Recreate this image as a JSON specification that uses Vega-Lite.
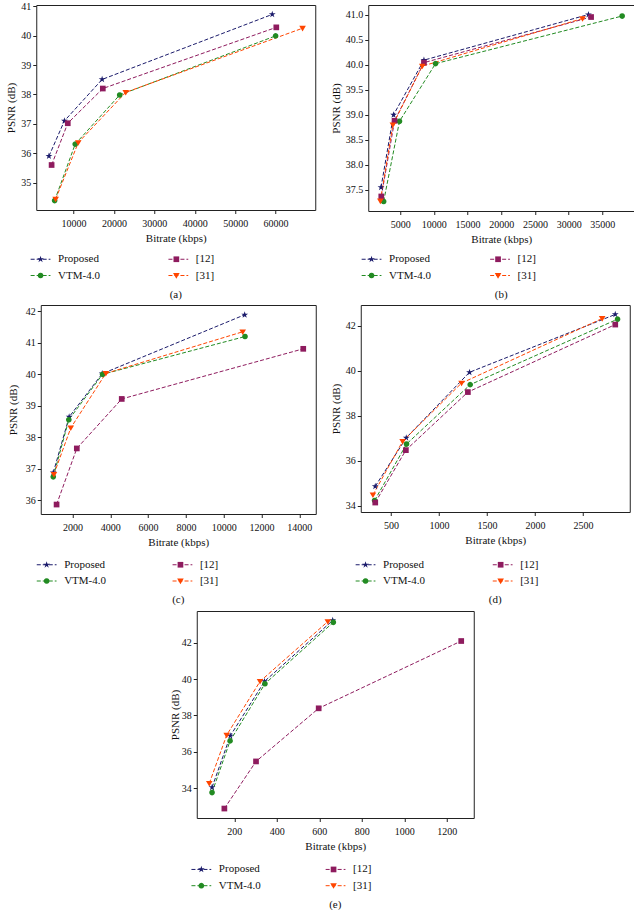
{
"$schema": "https://vega.github.io/schema/vega-lite/v6.json",
"padding": {"left": 5, "top": 0, "right": 0, "bottom": 0},
"background": "white",
"config": {
 "view": {"stroke": "#222", "strokeWidth": 1},
 "axis": {"labelFont": "Liberation Serif", "labelFontSize": 10, "titleFont": "Liberation Serif", "titleFontSize": 11, "titleFontWeight": "normal", "tickSize": 3.5, "tickColor": "#222", "labelColor": "#111", "titleColor": "#111", "grid": false, "domain": false, "labelPadding": 2, "titlePadding": 4, "labelFlush": false, "labelOverlap": false},
 "axisX": {"labelPadding": 5},
 "legend": {"labelFont": "Liberation Serif", "labelFontSize": 11, "labelColor": "#111", "rowPadding": 4.5, "symbolSize": 36, "labelOffset": 12, "padding": 0, "columns": 2},
 "title": {"font": "Liberation Serif", "fontSize": 11, "fontWeight": "normal", "orient": "bottom", "offset": 8, "frame": "group", "anchor": "middle", "color": "#111"}
},
"data": {"values": [
 {"panel":"a","method":"Proposed","bitrate":3920,"psnr":35.9},
 {"panel":"a","method":"Proposed","bitrate":7750,"psnr":37.1},
 {"panel":"a","method":"Proposed","bitrate":17080,"psnr":38.51},
 {"panel":"a","method":"Proposed","bitrate":59170,"psnr":40.72},
 {"panel":"a","method":"VTM-4.0","bitrate":5330,"psnr":34.39},
 {"panel":"a","method":"VTM-4.0","bitrate":10420,"psnr":36.31},
 {"panel":"a","method":"VTM-4.0","bitrate":21420,"psnr":37.98},
 {"panel":"a","method":"VTM-4.0","bitrate":60000,"psnr":39.99},
 {"panel":"a","method":"[12]","bitrate":4580,"psnr":35.6},
 {"panel":"a","method":"[12]","bitrate":8580,"psnr":37.02},
 {"panel":"a","method":"[12]","bitrate":17250,"psnr":38.2},
 {"panel":"a","method":"[12]","bitrate":60170,"psnr":40.28},
 {"panel":"a","method":"[31]","bitrate":5580,"psnr":34.44},
 {"panel":"a","method":"[31]","bitrate":11170,"psnr":36.36},
 {"panel":"a","method":"[31]","bitrate":22920,"psnr":38.07},
 {"panel":"a","method":"[31]","bitrate":66670,"psnr":40.25},
 {"panel":"b","method":"Proposed","bitrate":2160,"psnr":37.55},
 {"panel":"b","method":"Proposed","bitrate":4020,"psnr":39.0},
 {"panel":"b","method":"Proposed","bitrate":8530,"psnr":40.09},
 {"panel":"b","method":"Proposed","bitrate":32940,"psnr":41.0},
 {"panel":"b","method":"VTM-4.0","bitrate":2550,"psnr":37.27},
 {"panel":"b","method":"VTM-4.0","bitrate":4900,"psnr":38.87},
 {"panel":"b","method":"VTM-4.0","bitrate":10250,"psnr":40.02},
 {"panel":"b","method":"VTM-4.0","bitrate":37940,"psnr":40.97},
 {"panel":"b","method":"[12]","bitrate":2200,"psnr":37.37},
 {"panel":"b","method":"[12]","bitrate":4170,"psnr":38.88},
 {"panel":"b","method":"[12]","bitrate":8530,"psnr":40.04},
 {"panel":"b","method":"[12]","bitrate":33330,"psnr":40.95},
 {"panel":"b","method":"[31]","bitrate":2060,"psnr":37.28},
 {"panel":"b","method":"[31]","bitrate":3920,"psnr":38.8},
 {"panel":"b","method":"[31]","bitrate":8280,"psnr":39.97},
 {"panel":"b","method":"[31]","bitrate":32060,"psnr":40.92},
 {"panel":"c","method":"Proposed","bitrate":985,"psnr":36.88},
 {"panel":"c","method":"Proposed","bitrate":1825,"psnr":38.65},
 {"panel":"c","method":"Proposed","bitrate":3573,"psnr":40.02},
 {"panel":"c","method":"Proposed","bitrate":11108,"psnr":41.89},
 {"panel":"c","method":"VTM-4.0","bitrate":984,"psnr":36.75},
 {"panel":"c","method":"VTM-4.0","bitrate":1807,"psnr":38.56},
 {"panel":"c","method":"VTM-4.0","bitrate":3590,"psnr":40.0},
 {"panel":"c","method":"VTM-4.0","bitrate":11125,"psnr":41.2},
 {"panel":"c","method":"[12]","bitrate":1160,"psnr":35.87},
 {"panel":"c","method":"[12]","bitrate":2230,"psnr":37.65},
 {"panel":"c","method":"[12]","bitrate":4606,"psnr":39.22},
 {"panel":"c","method":"[12]","bitrate":14205,"psnr":40.81},
 {"panel":"c","method":"[31]","bitrate":1020,"psnr":36.83},
 {"panel":"c","method":"[31]","bitrate":1910,"psnr":38.3},
 {"panel":"c","method":"[31]","bitrate":3765,"psnr":40.03},
 {"panel":"c","method":"[31]","bitrate":11003,"psnr":41.35},
 {"panel":"d","method":"Proposed","bitrate":337,"psnr":34.87},
 {"panel":"d","method":"Proposed","bitrate":660,"psnr":37.03},
 {"panel":"d","method":"Proposed","bitrate":1319,"psnr":39.94},
 {"panel":"d","method":"Proposed","bitrate":2837,"psnr":42.51},
 {"panel":"d","method":"VTM-4.0","bitrate":330,"psnr":34.24},
 {"panel":"d","method":"VTM-4.0","bitrate":663,"psnr":36.75},
 {"panel":"d","method":"VTM-4.0","bitrate":1326,"psnr":39.39},
 {"panel":"d","method":"VTM-4.0","bitrate":2861,"psnr":42.3},
 {"panel":"d","method":"[12]","bitrate":337,"psnr":34.15},
 {"panel":"d","method":"[12]","bitrate":656,"psnr":36.48},
 {"panel":"d","method":"[12]","bitrate":1302,"psnr":39.06},
 {"panel":"d","method":"[12]","bitrate":2837,"psnr":42.06},
 {"panel":"d","method":"[31]","bitrate":313,"psnr":34.49},
 {"panel":"d","method":"[31]","bitrate":622,"psnr":36.87},
 {"panel":"d","method":"[31]","bitrate":1236,"psnr":39.46},
 {"panel":"d","method":"[31]","bitrate":2701,"psnr":42.33},
 {"panel":"e","method":"Proposed","bitrate":95,"psnr":34.04},
 {"panel":"e","method":"Proposed","bitrate":181,"psnr":36.88},
 {"panel":"e","method":"Proposed","bitrate":342,"psnr":39.87},
 {"panel":"e","method":"Proposed","bitrate":663,"psnr":43.22},
 {"panel":"e","method":"VTM-4.0","bitrate":95,"psnr":33.76},
 {"panel":"e","method":"VTM-4.0","bitrate":180,"psnr":36.6},
 {"panel":"e","method":"VTM-4.0","bitrate":344,"psnr":39.74},
 {"panel":"e","method":"VTM-4.0","bitrate":666,"psnr":43.12},
 {"panel":"e","method":"[12]","bitrate":153,"psnr":32.88},
 {"panel":"e","method":"[12]","bitrate":302,"psnr":35.47},
 {"panel":"e","method":"[12]","bitrate":597,"psnr":38.39},
 {"panel":"e","method":"[12]","bitrate":1268,"psnr":42.09},
 {"panel":"e","method":"[31]","bitrate":82,"psnr":34.26},
 {"panel":"e","method":"[31]","bitrate":164,"psnr":36.92},
 {"panel":"e","method":"[31]","bitrate":321,"psnr":39.87},
 {"panel":"e","method":"[31]","bitrate":640,"psnr":43.16}
]},
"spacing": 4,
"center": true,
"resolve": {"scale": {"x": "independent", "y": "independent", "color": "independent", "shape": "independent"}, "legend": {"color": "independent", "shape": "independent"}},
"vconcat": [
 {"hconcat": [
  {"width": 279, "height": 205,
   "transform": [{"filter": "datum.panel === 'a'"}],
   "title": {"text": "(a)"},
   "encoding": {
    "x": {"field": "bitrate", "type": "quantitative", "scale": {"domain": [782, 69807], "nice": false, "zero": false}, "axis": {"title": "Bitrate (kbps)", "values": [10000,20000,30000,40000,50000,60000], "format": "d"}},
    "y": {"field": "psnr", "type": "quantitative", "scale": {"domain": [34.07, 41.04], "nice": false, "zero": false}, "axis": {"title": "PSNR (dB)", "values": [35,36,37,38,39,40,41], "format": "d"}}
   },
   "layer": [
    {"mark": {"type": "line", "strokeDash": [4, 2], "strokeWidth": 1},
     "encoding": {"color": {"field": "method", "type": "nominal", "scale": {"domain": ["Proposed","VTM-4.0","[12]","[31]"], "range": ["#1b1b6b","#228b22","#8e1b5e","#ff4500"]},
      "legend": {"title": null, "orient": "none", "legendX": -1.2, "legendY": 248.5, "columnPadding": 65.8, "symbolType": "M-3.3,0H3.3", "symbolDash": [4, 2], "symbolStrokeWidth": 1}}}},
    {"mark": {"type": "point", "filled": true, "opacity": 1, "size": 36},
     "encoding": {"color": {"field": "method", "type": "nominal", "scale": {"domain": ["Proposed","VTM-4.0","[12]","[31]"], "range": ["#1b1b6b","#228b22","#8e1b5e","#ff4500"]},
       "legend": {"title": null, "orient": "none", "legendX": -1.2, "legendY": 248.5, "columnPadding": 65.8, "labelOpacity": 0, "symbolStrokeWidth": 0}},
      "shape": {"field": "method", "type": "nominal", "scale": {"domain": ["Proposed","VTM-4.0","[12]","[31]"], "range": ["M-3.3,0L-3.3,0M3.3,0L3.3,0M0,-1.2L0.268,-0.368L1.141,-0.371L0.433,0.14L0.706,0.971L0,0.456L-0.706,0.971L-0.433,0.14L-1.141,-0.371L-0.268,-0.368Z","M-3.3,0L-3.3,0M3.3,0L3.3,0M0.95,0L0.823,0.475L0.475,0.823L0,0.95L-0.475,0.823L-0.823,0.475L-0.95,0L-0.823,-0.475L-0.475,-0.823L0,-0.95L0.475,-0.823L0.823,-0.475Z","M-3.3,0L-3.3,0M3.3,0L3.3,0M-0.95,-0.95H0.95V0.95H-0.95Z","M-3.3,0L-3.3,0M3.3,0L3.3,0M-1.1,-0.8H1.1L0,1.05Z"]},
       "legend": {"title": null, "orient": "none", "legendX": -1.2, "legendY": 248.5, "columnPadding": 65.8, "labelOpacity": 0, "symbolStrokeWidth": 0}}}}
   ],
   "resolve": {"scale": {"color": "independent", "shape": "independent"}}
  },
  {"width": 266, "height": 206,
   "transform": [{"filter": "datum.panel === 'b'"}],
   "title": {"text": "(b)"},
   "encoding": {
    "x": {"field": "bitrate", "type": "quantitative", "scale": {"domain": [266, 39734], "nice": false, "zero": false}, "axis": {"title": "Bitrate (kbps)", "values": [5000,10000,15000,20000,25000,30000,35000], "format": "d"}},
    "y": {"field": "psnr", "type": "quantitative", "scale": {"domain": [37.08, 41.19], "nice": false, "zero": false}, "axis": {"title": "PSNR (dB)", "values": [37.5,38,38.5,39,39.5,40,40.5,41], "format": ".1f"}}
   },
   "layer": [
    {"mark": {"type": "line", "strokeDash": [4, 2], "strokeWidth": 1},
     "encoding": {"color": {"field": "method", "type": "nominal", "scale": {"domain": ["Proposed","VTM-4.0","[12]","[31]"], "range": ["#1b1b6b","#228b22","#8e1b5e","#ff4500"]},
      "legend": {"title": null, "orient": "none", "legendX": -2.2, "legendY": 248.5, "columnPadding": 56.5, "symbolType": "M-3.3,0H3.3", "symbolDash": [4, 2], "symbolStrokeWidth": 1}}}},
    {"mark": {"type": "point", "filled": true, "opacity": 1, "size": 36},
     "encoding": {"color": {"field": "method", "type": "nominal", "scale": {"domain": ["Proposed","VTM-4.0","[12]","[31]"], "range": ["#1b1b6b","#228b22","#8e1b5e","#ff4500"]},
       "legend": {"title": null, "orient": "none", "legendX": -2.2, "legendY": 248.5, "columnPadding": 56.5, "labelOpacity": 0, "symbolStrokeWidth": 0}},
      "shape": {"field": "method", "type": "nominal", "scale": {"domain": ["Proposed","VTM-4.0","[12]","[31]"], "range": ["M-3.3,0L-3.3,0M3.3,0L3.3,0M0,-1.2L0.268,-0.368L1.141,-0.371L0.433,0.14L0.706,0.971L0,0.456L-0.706,0.971L-0.433,0.14L-1.141,-0.371L-0.268,-0.368Z","M-3.3,0L-3.3,0M3.3,0L3.3,0M0.95,0L0.823,0.475L0.475,0.823L0,0.95L-0.475,0.823L-0.823,0.475L-0.95,0L-0.823,-0.475L-0.475,-0.823L0,-0.95L0.475,-0.823L0.823,-0.475Z","M-3.3,0L-3.3,0M3.3,0L3.3,0M-0.95,-0.95H0.95V0.95H-0.95Z","M-3.3,0L-3.3,0M3.3,0L3.3,0M-1.1,-0.8H1.1L0,1.05Z"]},
       "legend": {"title": null, "orient": "none", "legendX": -2.2, "legendY": 248.5, "columnPadding": 56.5, "labelOpacity": 0, "symbolStrokeWidth": 0}}}}
   ],
   "resolve": {"scale": {"color": "independent", "shape": "independent"}}
  }
 ], "spacing": 13,
 "resolve": {"scale": {"x": "independent", "y": "independent", "color": "independent", "shape": "independent"}, "legend": {"color": "independent", "shape": "independent"}}},
 {"hconcat": [
  {"width": 275, "height": 209,
   "transform": [{"filter": "datum.panel === 'c'"}],
   "title": {"text": "(c)"},
   "encoding": {
    "x": {"field": "bitrate", "type": "quantitative", "scale": {"domain": [323, 14866], "nice": false, "zero": false}, "axis": {"title": "Bitrate (kbps)", "values": [2000,4000,6000,8000,10000,12000,14000], "format": "d"}},
    "y": {"field": "psnr", "type": "quantitative", "scale": {"domain": [35.57, 42.2], "nice": false, "zero": false}, "axis": {"title": "PSNR (dB)", "values": [36,37,38,39,40,41,42], "format": "d", "titlePadding": 7}}
   },
   "layer": [
    {"mark": {"type": "line", "strokeDash": [4, 2], "strokeWidth": 1},
     "encoding": {"color": {"field": "method", "type": "nominal", "scale": {"domain": ["Proposed","VTM-4.0","[12]","[31]"], "range": ["#1b1b6b","#228b22","#8e1b5e","#ff4500"]},
      "legend": {"title": null, "orient": "none", "legendX": 0.4, "legendY": 254, "columnPadding": 63.8, "symbolType": "M-3.3,0H3.3", "symbolDash": [4, 2], "symbolStrokeWidth": 1}}}},
    {"mark": {"type": "point", "filled": true, "opacity": 1, "size": 36},
     "encoding": {"color": {"field": "method", "type": "nominal", "scale": {"domain": ["Proposed","VTM-4.0","[12]","[31]"], "range": ["#1b1b6b","#228b22","#8e1b5e","#ff4500"]},
       "legend": {"title": null, "orient": "none", "legendX": 0.4, "legendY": 254, "columnPadding": 63.8, "labelOpacity": 0, "symbolStrokeWidth": 0}},
      "shape": {"field": "method", "type": "nominal", "scale": {"domain": ["Proposed","VTM-4.0","[12]","[31]"], "range": ["M-3.3,0L-3.3,0M3.3,0L3.3,0M0,-1.2L0.268,-0.368L1.141,-0.371L0.433,0.14L0.706,0.971L0,0.456L-0.706,0.971L-0.433,0.14L-1.141,-0.371L-0.268,-0.368Z","M-3.3,0L-3.3,0M3.3,0L3.3,0M0.95,0L0.823,0.475L0.475,0.823L0,0.95L-0.475,0.823L-0.823,0.475L-0.95,0L-0.823,-0.475L-0.475,-0.823L0,-0.95L0.475,-0.823L0.823,-0.475Z","M-3.3,0L-3.3,0M3.3,0L3.3,0M-0.95,-0.95H0.95V0.95H-0.95Z","M-3.3,0L-3.3,0M3.3,0L3.3,0M-1.1,-0.8H1.1L0,1.05Z"]},
       "legend": {"title": null, "orient": "none", "legendX": 0.4, "legendY": 254, "columnPadding": 63.8, "labelOpacity": 0, "symbolStrokeWidth": 0}}}}
   ],
   "resolve": {"scale": {"color": "independent", "shape": "independent"}}
  },
  {"width": 269, "height": 207,
   "transform": [{"filter": "datum.panel === 'd'"}],
   "title": {"text": "(d)"},
   "encoding": {
    "x": {"field": "bitrate", "type": "quantitative", "scale": {"domain": [186, 2988], "nice": false, "zero": false}, "axis": {"title": "Bitrate (kbps)", "values": [500,1000,1500,2000,2500], "format": "d"}},
    "y": {"field": "psnr", "type": "quantitative", "scale": {"domain": [33.73, 42.93], "nice": false, "zero": false}, "axis": {"title": "PSNR (dB)", "values": [34,36,38,40,42], "format": "d"}}
   },
   "layer": [
    {"mark": {"type": "line", "strokeDash": [4, 2], "strokeWidth": 1},
     "encoding": {"color": {"field": "method", "type": "nominal", "scale": {"domain": ["Proposed","VTM-4.0","[12]","[31]"], "range": ["#1b1b6b","#228b22","#8e1b5e","#ff4500"]},
      "legend": {"title": null, "orient": "none", "legendX": -0.7, "legendY": 254, "columnPadding": 65.1, "symbolType": "M-3.3,0H3.3", "symbolDash": [4, 2], "symbolStrokeWidth": 1}}}},
    {"mark": {"type": "point", "filled": true, "opacity": 1, "size": 36},
     "encoding": {"color": {"field": "method", "type": "nominal", "scale": {"domain": ["Proposed","VTM-4.0","[12]","[31]"], "range": ["#1b1b6b","#228b22","#8e1b5e","#ff4500"]},
       "legend": {"title": null, "orient": "none", "legendX": -0.7, "legendY": 254, "columnPadding": 65.1, "labelOpacity": 0, "symbolStrokeWidth": 0}},
      "shape": {"field": "method", "type": "nominal", "scale": {"domain": ["Proposed","VTM-4.0","[12]","[31]"], "range": ["M-3.3,0L-3.3,0M3.3,0L3.3,0M0,-1.2L0.268,-0.368L1.141,-0.371L0.433,0.14L0.706,0.971L0,0.456L-0.706,0.971L-0.433,0.14L-1.141,-0.371L-0.268,-0.368Z","M-3.3,0L-3.3,0M3.3,0L3.3,0M0.95,0L0.823,0.475L0.475,0.823L0,0.95L-0.475,0.823L-0.823,0.475L-0.95,0L-0.823,-0.475L-0.475,-0.823L0,-0.95L0.475,-0.823L0.823,-0.475Z","M-3.3,0L-3.3,0M3.3,0L3.3,0M-0.95,-0.95H0.95V0.95H-0.95Z","M-3.3,0L-3.3,0M3.3,0L3.3,0M-1.1,-0.8H1.1L0,1.05Z"]},
       "legend": {"title": null, "orient": "none", "legendX": -0.7, "legendY": 254, "columnPadding": 65.1, "labelOpacity": 0, "symbolStrokeWidth": 0}}}}
   ],
   "resolve": {"scale": {"color": "independent", "shape": "independent"}}
  }
 ], "spacing": 13,
 "resolve": {"scale": {"x": "independent", "y": "independent", "color": "independent", "shape": "independent"}, "legend": {"color": "independent", "shape": "independent"}}},
 {"width": 277, "height": 207,
   "transform": [{"filter": "datum.panel === 'e'"}],
   "title": {"text": "(e)"},
   "encoding": {
    "x": {"field": "bitrate", "type": "quantitative", "scale": {"domain": [23, 1327], "nice": false, "zero": false}, "axis": {"title": "Bitrate (kbps)", "values": [200,400,600,800,1000,1200], "format": "d"}},
    "y": {"field": "psnr", "type": "quantitative", "scale": {"domain": [32.36, 43.74], "nice": false, "zero": false}, "axis": {"title": "PSNR (dB)", "values": [34,36,38,40,42], "format": "d", "titlePadding": 1}}
   },
   "layer": [
    {"mark": {"type": "line", "strokeDash": [4, 2], "strokeWidth": 1},
     "encoding": {"color": {"field": "method", "type": "nominal", "scale": {"domain": ["Proposed","VTM-4.0","[12]","[31]"], "range": ["#1b1b6b","#228b22","#8e1b5e","#ff4500"]},
      "legend": {"title": null, "orient": "none", "legendX": -0.9, "legendY": 252.7, "columnPadding": 62.2, "symbolType": "M-3.3,0H3.3", "symbolDash": [4, 2], "symbolStrokeWidth": 1}}}},
    {"mark": {"type": "point", "filled": true, "opacity": 1, "size": 36},
     "encoding": {"color": {"field": "method", "type": "nominal", "scale": {"domain": ["Proposed","VTM-4.0","[12]","[31]"], "range": ["#1b1b6b","#228b22","#8e1b5e","#ff4500"]},
       "legend": {"title": null, "orient": "none", "legendX": -0.9, "legendY": 252.7, "columnPadding": 62.2, "labelOpacity": 0, "symbolStrokeWidth": 0}},
      "shape": {"field": "method", "type": "nominal", "scale": {"domain": ["Proposed","VTM-4.0","[12]","[31]"], "range": ["M-3.3,0L-3.3,0M3.3,0L3.3,0M0,-1.2L0.268,-0.368L1.141,-0.371L0.433,0.14L0.706,0.971L0,0.456L-0.706,0.971L-0.433,0.14L-1.141,-0.371L-0.268,-0.368Z","M-3.3,0L-3.3,0M3.3,0L3.3,0M0.95,0L0.823,0.475L0.475,0.823L0,0.95L-0.475,0.823L-0.823,0.475L-0.95,0L-0.823,-0.475L-0.475,-0.823L0,-0.95L0.475,-0.823L0.823,-0.475Z","M-3.3,0L-3.3,0M3.3,0L3.3,0M-0.95,-0.95H0.95V0.95H-0.95Z","M-3.3,0L-3.3,0M3.3,0L3.3,0M-1.1,-0.8H1.1L0,1.05Z"]},
       "legend": {"title": null, "orient": "none", "legendX": -0.9, "legendY": 252.7, "columnPadding": 62.2, "labelOpacity": 0, "symbolStrokeWidth": 0}}}}
   ],
   "resolve": {"scale": {"color": "independent", "shape": "independent"}}
 }
]
}
